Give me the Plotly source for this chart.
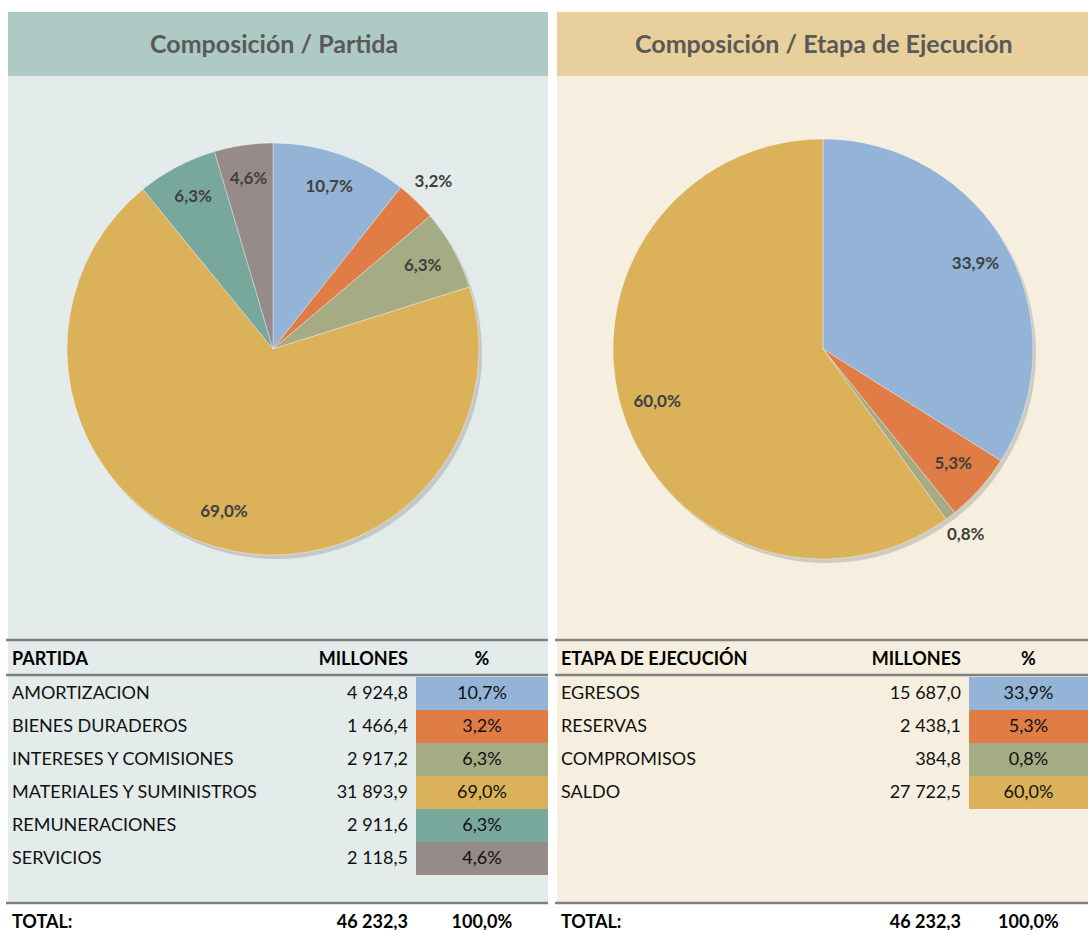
import plotly.graph_objects as go

# ---------------- data ----------------
partidas = ["AMORTIZACION", "BIENES DURADEROS", "INTERESES Y COMISIONES",
            "MATERIALES Y SUMINISTROS", "REMUNERACIONES", "SERVICIOS"]
millones_partida = [4924.8, 1466.4, 2917.2, 31893.9, 2911.6, 2118.5]

etapas = ["EGRESOS", "RESERVAS", "COMPROMISOS", "SALDO"]
millones_etapa = [15687.0, 2438.1, 384.8, 27722.5]

total_millones = 46232.3   # total as printed in the source table
total_pct = 100.0

total_label = "TOTAL:"
titles = ["Composición / Partida", "Composición / Etapa de Ejecución"]
table_headers_left = ["PARTIDA", "MILLONES", "%"]
table_headers_right = ["ETAPA DE EJECUCIÓN", "MILLONES", "%"]

# which slice labels sit outside the pie (small slices)
outside_partida = [False, True, False, False, False, False]
outside_etapa = [False, False, True, False]

# ---------------- styling ----------------
colors_partida = ["#93b4d6", "#e07c45", "#a5ab82", "#dbb25a", "#78a89c", "#978b8a"]
colors_etapa = ["#93b4d6", "#e07c45", "#a5ab82", "#dbb25a"]
W, H = 1088, 931
FONT = "Lato"
LEFT_BG, RIGHT_BG = "#e3ecea", "#f6efdf"
LEFT_HEAD, RIGHT_HEAD = "#aecac4", "#e8d09c"
LINE = "#808080"
LABEL_FONT = dict(family=FONT, size=17, color="#404040", weight="bold")
CLEAR = "rgba(0,0,0,0)"
R_IN, R_OUT = 0.83, 1.12   # label radius (fraction of pie radius)
R_MAX = 1.2                # radial axis extent so outside labels stay in range


def fmt_num(v):
    s = f"{v:,.1f}"
    return s.replace(",", " ").replace(".", ",")


def fmt_pct1(p):
    return f"{p:.1f}%".replace(".", ",")


def px_x(x):
    return x / W


def px_y(y):
    return 1 - y / H


def dom(cx, cy, r):
    return dict(x=[px_x(cx - r), px_x(cx + r)], y=[px_y(cy + r), px_y(cy - r)])


def polar_layout(domain):
    return dict(domain=domain, bgcolor=CLEAR, bargap=0, hole=0,
                radialaxis=dict(visible=False, range=[0, R_MAX]),
                angularaxis=dict(visible=False, rotation=90, direction="clockwise"))


fig = go.Figure()
layout_polars = {}


def add_pie(shadow_id, main_id, labels, values, colors, outside, cx, cy, r):
    tot = sum(values)
    pcts = [100 * v / tot for v in values]
    widths = [360 * v / tot for v in values]
    mids, acc = [], 0.0
    for w in widths:
        mids.append(acc + w / 2)
        acc += w
    # soft drop shadow (full disc, slightly offset)
    fig.add_trace(go.Barpolar(r=[1, 1], theta=[90, 270], width=[180, 180],
                              marker=dict(color="#8a8a8a", line=dict(width=0)),
                              opacity=0.35, hoverinfo="skip", showlegend=False,
                              subplot=shadow_id))
    layout_polars[shadow_id] = polar_layout(dom(cx + 3, cy + 4, r * R_MAX))
    # slices
    fig.add_trace(go.Barpolar(
        r=[1] * len(values), theta=mids, width=widths,
        marker=dict(color=colors, line=dict(width=0.6, color="rgba(255,255,255,0.6)")),
        customdata=[[l, fmt_num(v)] for l, v in zip(labels, values)],
        hovertemplate="%{customdata[0]}<br>%{customdata[1]}<extra></extra>",
        showlegend=False, subplot=main_id))
    # percentage labels
    fig.add_trace(go.Scatterpolar(
        r=[R_OUT if o else R_IN for o in outside], theta=mids, mode="text",
        text=[fmt_pct1(p) for p in pcts], textfont=LABEL_FONT, textposition="middle center",
        cliponaxis=False, hoverinfo="skip", showlegend=False, subplot=main_id))
    layout_polars[main_id] = polar_layout(dom(cx, cy, r * R_MAX))


add_pie("polar", "polar3", partidas, millones_partida, colors_partida, outside_partida,
        273, 349, 206)
add_pie("polar2", "polar4", etapas, millones_etapa, colors_etapa, outside_etapa,
        823, 349, 210)


# ---- tables ----
def add_table(x0, x1, colw, headers, labels, vals, cols):
    n = len(labels)
    tot = sum(vals)
    fig.add_trace(go.Table(
        domain=dict(x=[px_x(x0), px_x(x1)], y=[px_y(639 + 35 + 33 * n + 5), px_y(639)]),
        columnwidth=colw,
        header=dict(values=[f"<b>{h}</b>" for h in headers],
                    align=["left", "right", "center"], height=35,
                    fill=dict(color=CLEAR), line=dict(width=0, color=CLEAR),
                    font=dict(family=FONT, size=18, color="#000000")),
        cells=dict(values=[labels, [fmt_num(v) for v in vals],
                           [fmt_pct1(100 * v / tot) for v in vals]],
                   align=["left", "right", "center"], height=33,
                   fill=dict(color=[[CLEAR] * n, [CLEAR] * n, cols]),
                   line=dict(width=0, color=CLEAR),
                   font=dict(family=FONT, size=18, color="#111111")),
    ))
    # total row
    fig.add_trace(go.Table(
        domain=dict(x=[px_x(x0), px_x(x1)], y=[0, px_y(902)]),
        columnwidth=colw,
        header=dict(values=[f"<b>{total_label}</b>", f"<b>{fmt_num(total_millones)}</b>",
                            f"<b>{fmt_pct1(total_pct)}</b>"],
                    align=["left", "right", "center"], height=33,
                    fill=dict(color=CLEAR), line=dict(width=0, color=CLEAR),
                    font=dict(family=FONT, size=18, color="#000000")),
        cells=dict(values=[[], [], []], height=1),
    ))


add_table(4, 548, [296, 116, 132], table_headers_left, partidas, millones_partida,
          colors_partida)
add_table(553, 1088, [300, 116, 119], table_headers_right, etapas, millones_etapa,
          colors_etapa)

# ---- shapes: panels, headers, lines ----
shapes = []
for (x0, x1, bg, hd) in [(8, 548, LEFT_BG, LEFT_HEAD), (557, 1088, RIGHT_BG, RIGHT_HEAD)]:
    shapes.append(dict(type="rect", xref="paper", yref="paper", layer="below",
                       x0=px_x(x0), x1=px_x(x1), y0=px_y(903), y1=px_y(76),
                       fillcolor=bg, line=dict(width=0)))
    shapes.append(dict(type="rect", xref="paper", yref="paper", layer="below",
                       x0=px_x(x0), x1=px_x(x1), y0=px_y(76), y1=px_y(12),
                       fillcolor=hd, line=dict(width=0)))
    for yy in (640, 675, 903):
        shapes.append(dict(type="line", xref="paper", yref="paper", layer="above",
                           x0=px_x(x0 - 2), x1=px_x(x1), y0=px_y(yy), y1=px_y(yy),
                           line=dict(color=LINE, width=2.5)))

annotations = [
    dict(text=f"<b>{titles[0]}</b>", x=px_x(274), y=px_y(43), xref="paper", yref="paper",
         xanchor="center", yanchor="middle",
         showarrow=False, font=dict(family=FONT, size=25, color="#595959")),
    dict(text=f"<b>{titles[1]}</b>", x=px_x(824), y=px_y(43), xref="paper", yref="paper",
         xanchor="center", yanchor="middle",
         showarrow=False, font=dict(family=FONT, size=25, color="#595959")),
]

fig.update_layout(
    width=W, height=H, margin=dict(l=0, r=0, t=0, b=0),
    paper_bgcolor="white", plot_bgcolor="white",
    shapes=shapes, annotations=annotations,
    font=dict(family=FONT),
    **layout_polars,
)

fig.write_html("out.html", config={"displayModeBar": False},
               post_script="document.body.style.margin='0';document.body.style.padding='0';")
